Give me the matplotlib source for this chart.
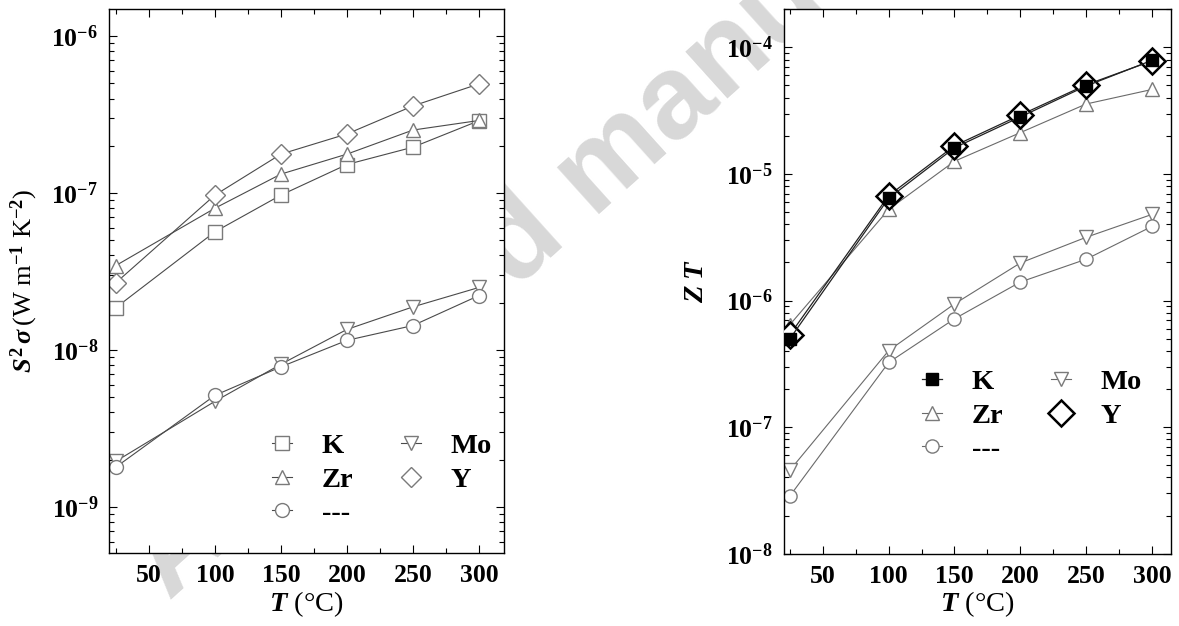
import matplotlib
matplotlib.use('Agg')
import matplotlib.pyplot as plt
from matplotlib.ticker import MultipleLocator, LogLocator, NullFormatter

# Temperatures (°C)
temps = [25, 100, 150, 200, 250, 300]

# Power factor S^2 sigma (W m^-1 K^-2)
pf_k = [1.86e-8, 5.66e-8, 9.7e-8, 1.52e-7, 1.96e-7, 2.89e-7]
pf_zr = [3.45e-8, 8.0e-8, 1.32e-7, 1.77e-7, 2.52e-7, 2.9e-7]
pf_none = [1.79e-9, 5.13e-9, 7.8e-9, 1.15e-8, 1.43e-8, 2.22e-8]
pf_mo = [1.95e-9, 4.7e-9, 8.1e-9, 1.35e-8, 1.88e-8, 2.5e-8]
pf_y = [2.68e-8, 9.7e-8, 1.77e-7, 2.38e-7, 3.59e-7, 4.96e-7]

# Figure of merit ZT
zt_k = [4.99e-7, 6.43e-6, 1.61e-5, 2.82e-5, 4.95e-5, 7.9e-5]
zt_zr = [6.45e-7, 5.25e-6, 1.26e-5, 2.12e-5, 3.57e-5, 4.65e-5]
zt_none = [2.86e-8, 3.24e-7, 7.17e-7, 1.40e-6, 2.12e-6, 3.85e-6]
zt_mo = [4.57e-8, 4.02e-7, 9.4e-7, 1.98e-6, 3.16e-6, 4.79e-6]
zt_y = [5.37e-7, 6.75e-6, 1.67e-5, 2.92e-5, 5.06e-5, 7.82e-5]

plt.rcParams['font.family'] = 'Liberation Serif'
plt.rcParams['font.weight'] = 'bold'
plt.rcParams['mathtext.fontset'] = 'custom'
plt.rcParams['mathtext.rm'] = 'Liberation Serif'
plt.rcParams['mathtext.it'] = 'Liberation Serif:italic'
plt.rcParams['axes.linewidth'] = 1.0

W, H = 1179, 626
fig = plt.figure(figsize=(W / 100, H / 100), dpi=100)

# faint watermark behind both panels
fig.text(600 / W, 1 - 172 / H, 'Accepted manuscript', fontsize=86,
         fontweight='bold', family='Liberation Sans', color='#d8d8d8',
         rotation=42, ha='center', va='center', rotation_mode='anchor',
         zorder=-1)


def style_axes(ax, ylim, xlim):
    ax.set_yscale('log')
    ax.set_xlim(*xlim)
    ax.set_ylim(*ylim)
    ax.xaxis.set_major_locator(MultipleLocator(50))
    ax.xaxis.set_minor_locator(MultipleLocator(25))
    ax.yaxis.set_major_locator(LogLocator(base=10, numticks=20))
    ax.yaxis.set_minor_locator(LogLocator(base=10, subs=range(2, 10), numticks=20))
    ax.yaxis.set_minor_formatter(NullFormatter())
    ax.tick_params(which='both', direction='in', top=True, right=True,
                   labelsize=18.5, width=0.8)
    ax.tick_params(which='major', length=6, pad=8)
    ax.tick_params(which='minor', length=3.5)
    ax.set_xlabel('$T$ (°C)', fontsize=20.5, fontweight='normal', labelpad=1)


def add_legend(ax, x, y):
    h, l = ax.get_legend_handles_labels()
    order = [l.index(n) for n in ['K', 'Zr', '---', 'Mo', 'Y']]
    ax.legend([h[i] for i in order], [l[i] for i in order], ncol=2,
              loc='upper left', bbox_to_anchor=(x / W, 1 - y / H),
              bbox_transform=fig.transFigure, frameon=False, fontsize=20.5,
              handlelength=0.7, handletextpad=1.05, columnspacing=1.67,
              labelspacing=0.27, borderpad=0, borderaxespad=0)


grey = '#7a7a7a'
line_grey = '#4a4a4a'

# Left panel: power factor
ax1 = fig.add_axes([109.3 / W, 1 - 553.3 / H, 394.7 / W, 544.3 / H])
kw = dict(color=line_grey, lw=0.8, mec=grey, mfc='white', ms=10, mew=1.0)
ax1.plot(temps, pf_k, marker='s', label='K', **kw)
ax1.plot(temps, pf_zr, marker='^', label='Zr', **kw)
ax1.plot(temps, pf_mo, marker='v', label='Mo', **kw)
ax1.plot(temps, pf_none, marker='o', label='---', **kw)
ax1.plot(temps, pf_y, marker='D', label='Y', **kw)
style_axes(ax1, (5.05e-10, 1.49e-6), (20, 319))
ax1.set_ylabel('$S^2\\,\\sigma\\,$(W m$^{-1}$ K$^{-2}$)', fontsize=19,
               fontweight='normal', labelpad=8)
add_legend(ax1, 272, 433)

# Right panel: ZT
ax2 = fig.add_axes([784 / W, 1 - 553.7 / H, 387.3 / W, 544.7 / H])
gkw = dict(color='#6a6a6a', lw=0.8, mec=grey, mfc='white', ms=9.5, mew=1.0)
ax2.plot(temps, zt_zr, marker='^', label='Zr', **gkw)
ax2.plot(temps, zt_mo, marker='v', label='Mo', **gkw)
ax2.plot(temps, zt_none, marker='o', label='---', **gkw)
ax2.plot(temps, zt_y, marker='D', label='Y', color='#222222', lw=0.9,
         mec='black', mfc='white', ms=13, mew=1.8, zorder=3)
ax2.plot(temps, zt_k, marker='s', label='K', color='#222222', lw=0.9,
         mec='black', mfc='black', ms=8, mew=1.0, zorder=4)
style_axes(ax2, (1e-8, 2.01e-4), (20.5, 314.7))
ax2.set_ylabel('$Z\\;T$', fontsize=20.5, fontweight='normal', labelpad=12)
add_legend(ax2, 922, 369)

fig.savefig('out.png', dpi=100)
